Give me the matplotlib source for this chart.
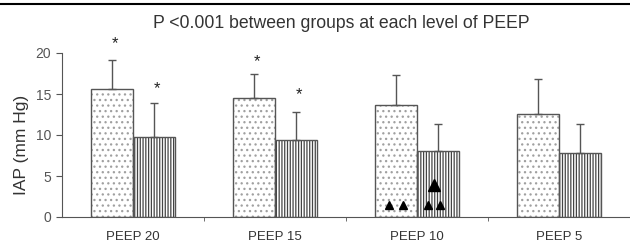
import matplotlib
matplotlib.use("Agg")
import matplotlib.pyplot as plt
from matplotlib.lines import Line2D
import numpy as np

plt.rcParams["font.family"] = ["Liberation Sans", "DejaVu Sans"]
plt.rcParams["hatch.linewidth"] = 0.9

groups = ["PEEP 20", "PEEP 15", "PEEP 10", "PEEP 5"]
iap_a = [15.6, 14.5, 13.7, 12.6]
err_a = [3.5, 2.9, 3.6, 4.2]
iap_b = [9.8, 9.4, 8.05, 7.8]
err_b = [4.1, 3.4, 3.25, 3.6]

# stars above bars: (group index, bar 0/1, y value)
stars = [(0, 0, 21.2), (0, 1, 15.7), (1, 0, 18.9), (1, 1, 14.9)]
# triangles inside PEEP 10 bars: (x offset from group centre, y value, size)
triangles = [(-0.20, 1.5, 5.5), (-0.10, 1.5, 5.5), (0.08, 1.5, 5.5), (0.16, 1.5, 5.5), (0.12, 3.9, 9)]

title = "P <0.001 between groups at each level of PEEP"

fig = plt.figure(figsize=(6.3, 2.46), dpi=100)
ax = fig.add_axes([62 / 630, 29 / 246, 1 - 62 / 630, 188.6 / 246])

x = np.arange(len(groups))
w = 0.295
edge = "#555555"

# dotted bars: light dots first, then the outline on top
plt.rcParams["hatch.color"] = "#a0a0a0"
ax.bar(x - w / 2, iap_a, w, color="white", edgecolor="#a0a0a0", hatch="...", linewidth=0)
ax.bar(x - w / 2, iap_a, w, fill=False, edgecolor=edge, linewidth=1.0)
# striped bars
plt.rcParams["hatch.color"] = "#444444"
ax.bar(x + w / 2, iap_b, w, color="white", edgecolor="#444444", hatch="||||||", linewidth=0)
ax.bar(x + w / 2, iap_b, w, fill=False, edgecolor=edge, linewidth=1.0)

ax.errorbar(x - w / 2, iap_a, yerr=[np.zeros(4), err_a], fmt="none", ecolor=edge,
            elinewidth=1.0, capsize=3, capthick=1.0)
ax.errorbar(x + w / 2, iap_b, yerr=[np.zeros(4), err_b], fmt="none", ecolor=edge,
            elinewidth=1.0, capsize=3, capthick=1.0)

for g, b, yv in stars:
    xs = g - w / 2 if b == 0 else g + w / 2
    ax.text(xs + 0.02, yv, "*", ha="center", va="center", fontsize=12, color="#222222")

for dx, yv, s in triangles:
    ax.plot(2 + dx, yv, marker="^", color="black", markersize=s, linestyle="none")

ax.set_xlim(-0.5, 3.5)
ax.set_ylim(0, 23)
ax.set_yticks([0, 5, 10, 15, 20])
ax.set_xticks(x)
ax.set_xticklabels(groups)
ax.set_xticks([0.5, 1.5, 2.5], minor=True)
ax.tick_params(axis="x", which="major", length=0, pad=10, labelsize=9.5, labelcolor="#333333")
ax.tick_params(axis="x", which="minor", length=3, color=edge)
ax.tick_params(axis="y", length=4, color=edge, labelsize=10, labelcolor="#555555", pad=4)
for s in ["top", "right"]:
    ax.spines[s].set_visible(False)
for s in ["left", "bottom"]:
    ax.spines[s].set_color(edge)
ax.spines["left"].set_bounds(0, 20)
ax.set_ylabel("IAP (mm Hg)", fontsize=12.5, color="#333333")
ax.yaxis.set_label_coords(-0.058, 0.38)

fig.text(341 / 630, 1 - 23 / 246, title, ha="center", va="center", fontsize=12.7, color="#333333")
fig.add_artist(Line2D([0, 1], [1 - 4 / 246, 1 - 4 / 246], color="black", linewidth=1.5))

fig.savefig("out.png", dpi=100)
